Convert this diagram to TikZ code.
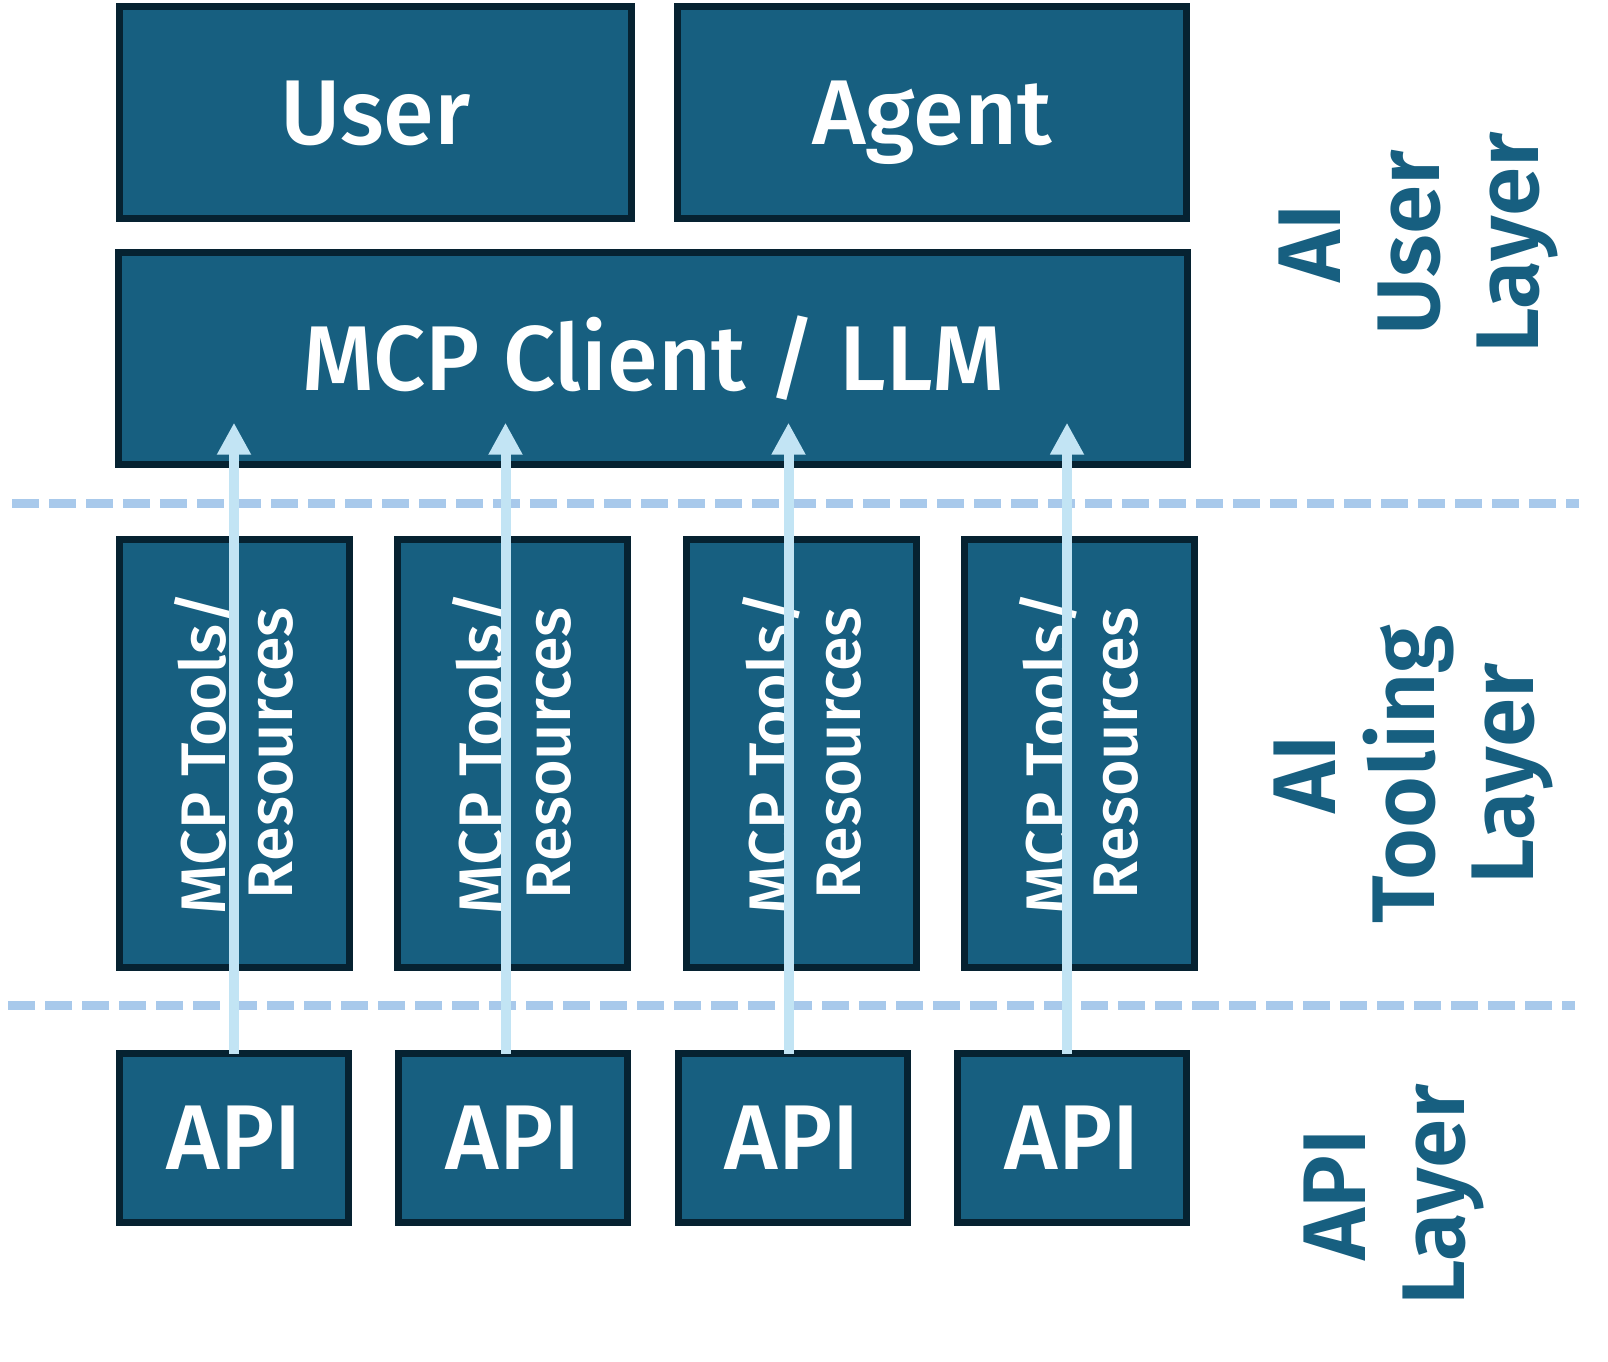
\documentclass[tikz,border=0pt]{standalone}
\usepackage{fontspec}
\setmainfont{Fira Sans}
\IfFontExistsTF{Fira Sans Medium}{\newfontfamily\boxfont{Fira Sans Medium}}{\newfontfamily\boxfont{Fira Sans}[FakeBold=0.4]}
\IfFontExistsTF{Fira Sans SemiBold}{\newfontfamily\lblfont{Fira Sans SemiBold}}{\newfontfamily\lblfont{Fira Sans}[FakeBold=1.2]}
\usetikzlibrary{arrows.meta}
\definecolor{boxfill}{HTML}{175F80}
\definecolor{boxline}{HTML}{062231}
\definecolor{flowc}{HTML}{C2E4F4}
\definecolor{sepc}{HTML}{A8C9EB}
\begin{document}
\begin{tikzpicture}[x=1pt,y=-1pt,
  blkbase/.style={draw=boxline, fill=boxfill, line width=7pt, inner sep=0pt, outer sep=0pt, text=white},
  blk/.style={blkbase, font=\boxfont\fontsize{92}{100}\selectfont, text height=63pt, text depth=0pt},
  toolbox/.style={blkbase, rotate=90, align=center, font=\boxfont\fontsize{63}{67}\selectfont, minimum width=428pt, minimum height=230pt},
  apibox/.style={blk, minimum width=229pt, minimum height=168.7pt},
  lbl/.style={rotate=90, align=center, text=boxfill, inner sep=0pt, font=\lblfont\fontsize{89}{99}\selectfont},
  sep/.style={draw=sepc, line width=9pt, dash pattern=on 27pt off 10pt},
  flow/.style={draw=flowc, line width=10pt, -{Triangle[length=32pt,width=32pt]}}
]
\fill[white] (0,0) rectangle (1608,1361);
\useasboundingbox (0,0) rectangle (1608,1361);

% top layer
\node[blk, minimum width=511.6pt, minimum height=211.4pt] (user) at (375.3,112.5) {User};
\node[blk, minimum width=509pt, minimum height=211.4pt] (agent) at (932,112.5) {Agent};
\node[blk, minimum width=1068.4pt, minimum height=211.4pt] (client) at (653.1,358.5) {MCP Client / LLM};

% tooling layer
\node[toolbox] (tool1) at (234,753.2) {MCP Tools/\\Resources};
\node[toolbox] (tool2) at (512.2,753.2) {MCP Tools/\\Resources};
\node[toolbox] (tool3) at (801.9,753.2) {MCP Tools/\\Resources};
\node[toolbox] (tool4) at (1079.1,753.2) {MCP Tools/\\Resources};

% api layer
\node[apibox] (api1) at (234,1137.9) {API};
\node[apibox] (api2) at (513,1137.9) {API};
\node[apibox] (api3) at (792.5,1137.9) {API};
\node[apibox] (api4) at (1072,1137.9) {API};

% separators
\coordinate (s1a) at (12,503.5);
\coordinate (s1b) at (1579,503.5);
\coordinate (s2a) at (8,1005.5);
\coordinate (s2b) at (1575,1005.5);
\draw[sep] (s1a) -- (s1b);
\draw[sep] (s2a) -- (s2b);

% flows
\coordinate (f1) at (234,422.7);
\coordinate (f2) at (505.5,422.7);
\coordinate (f3) at (788.5,422.7);
\coordinate (f4) at (1067,422.7);
\draw[flow] (f1 |- api1.north) -- (f1);
\draw[flow] (f2 |- api2.north) -- (f2);
\draw[flow] (f3 |- api3.north) -- (f3);
\draw[flow] (f4 |- api4.north) -- (f4);

% layer labels
\node[lbl] (lab1) at (1418,243) {AI\\User\\Layer};
\node[lbl] (lab2) at (1413,774) {AI\\Tooling\\Layer};
\node[lbl] (lab3) at (1394,1195) {API\\Layer};
\end{tikzpicture}
\end{document}
